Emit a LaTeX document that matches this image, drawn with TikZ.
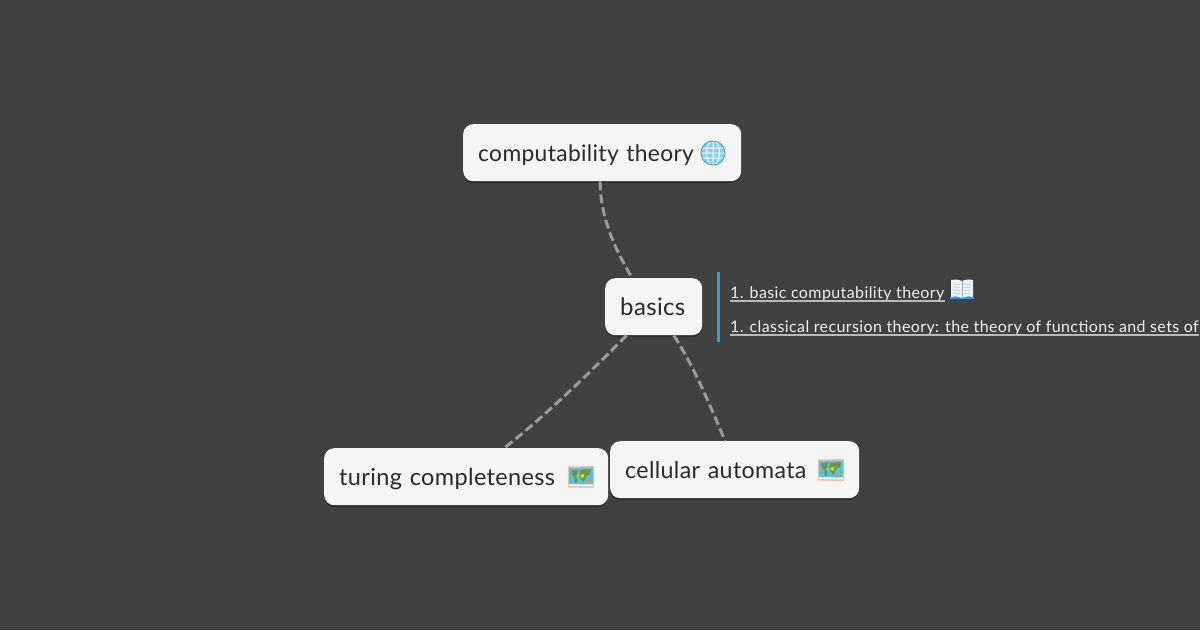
\documentclass[tikz,border=0pt]{standalone}
\usepackage{fontspec}
\setmainfont{Lato}[LetterSpace=1.5]
\newfontfamily\listfont{Lato}[LetterSpace=2.5]
\usetikzlibrary{calc}
\definecolor{bgc}{HTML}{414141}
\definecolor{cardc}{HTML}{F5F5F5}
\definecolor{inkc}{HTML}{2A2A2A}
\definecolor{linkc}{HTML}{9A9A9A}
\definecolor{barc}{HTML}{2D9CE6}
\definecolor{listc}{HTML}{EDEDED}
\definecolor{seac}{HTML}{5CBDEB}
\definecolor{landc}{HTML}{6E9A34}
\definecolor{sandc}{HTML}{E3C4A8}
\tikzset{
  x=1pt,y=-1pt,
  card/.style={fill=cardc,rounded corners=10pt,minimum height=57pt,inner xsep=15pt,inner ysep=0pt,
    text height=37pt,text depth=20pt,
    text=inkc,align=left,anchor=north west},
  cardfont/.style={font=\fontsize{#1}{26}\selectfont},
  shade card/.style={fill=black,opacity=.28,rounded corners=10pt,draw=none},
  conn/.style={draw=linkc,line width=3pt,dash pattern=on 9pt off 4pt},
  item/.style={text=listc,font=\fontsize{16}{20}\selectfont\listfont,anchor=base west,inner sep=0pt},
  under/.style={draw=listc!70!bgc,line width=1.2pt},
  mapicon/.pic={
    \fill[sandc] (-13,-10.5) -- (13,-11) -- (13,11) -- (-13,10.5) -- cycle;
    \fill[seac] (-12,-9) -- (12,-9.5) -- (12,7.5) -- (-12,7) -- cycle;
    \fill[landc] (-10,-6.5) -- (-3,-7.5) -- (-4,-2) -- (-6,-1) -- (-3.5,2) -- (-4.5,6) -- (-6,5.5) -- (-7,0) -- (-9,-3) -- cycle;
    \fill[landc] (-1,-7) -- (10,-8) -- (9,-3) -- (5,-1) -- (4,2) -- (2,5) -- (0,2) -- (-1.5,-2) -- cycle;
    \fill[yellow!70!orange] (-1,-2) -- (3,-3) -- (3,0) -- (1,1) -- cycle;
    \fill[orange!80!yellow] (7,3) -- (9.5,3) -- (9.5,5) -- (7,5) -- cycle;
    \fill[white,opacity=.75] (-12,7) -- (12,7.5) -- (12,9.5) -- (-12,9) -- cycle;
  },
  globeicon/.pic={
    \fill[seac!75!white] (0,0) circle[radius=12.5];
    \draw[white,line width=1pt] (-12,-5) -- (12,-5) (-12.5,0) -- (12.5,0) (-12,5) -- (12,5)
      (0,-12.5) -- (0,12.5) (0,0) ellipse[x radius=6.5,y radius=12.5];
    \draw[seac!85!black,line width=.9pt] (0,0) circle[radius=12];
  },
  bookicon/.pic={
    \fill[barc] (-12,8) -- (-12,10) -- (12,10) -- (12,8) -- cycle;
    \fill[white!85!seac] (-11,-9) .. controls (-6,-10) and (-2,-9) .. (0,-8) .. controls (2,-9) and (6,-10) .. (11,-9) -- (11,8)
      .. controls (6,7) and (2,8) .. (0,9) .. controls (-2,8) and (-6,7) .. (-11,8) -- cycle;
    \draw[gray!70,line width=.7pt] (0,-8) -- (0,9);
    \draw[gray!45,line width=.7pt] (-9,-5) -- (-2,-4.5) (-9,-2) -- (-2,-1.5) (-9,1) -- (-2,1.5) (-9,4) -- (-2,4.5)
      (9,-5) -- (2,-4.5) (9,-2) -- (2,-1.5) (9,1) -- (2,1.5) (9,4) -- (2,4.5);
  }
}
\begin{document}
\begin{tikzpicture}
\useasboundingbox (0,0) rectangle (1200,630);
\clip (0,0) rectangle (1200,630);
\fill[bgc] (0,0) rectangle (1200,630);
% soft shadows
\fill[shade card] (463,126) rectangle (741,183);
\fill[shade card] (605,280) rectangle (702,337);
\fill[shade card] (324,450) rectangle (608,507);
\fill[shade card] (610,443) rectangle (859,500);
% nodes
\node[card,cardfont=22.8,minimum width=278pt,text width=248pt] (root) at (463,124) {computability theory};
\node[card,cardfont=24,minimum width=97pt,text width=67pt] (basics) at (605,278) {basics};
\node[card,cardfont=23.5,minimum width=284pt,text width=254pt] (turing) at (324,448) {turing completeness};
\node[card,cardfont=23.2,minimum width=249pt,text width=219pt] (cell) at (610,441) {cellular automata};
% connectors
\draw[conn] ([xshift=-2pt]root.south) .. controls +(0,38) and +(-15,-25) .. ([xshift=-21.5pt]basics.north);
\draw[conn] ([xshift=-27pt]basics.south) .. controls +(-30,30) and +(45,-35) .. ([xshift=38pt]turing.north);
\draw[conn] ([xshift=20pt]basics.south) .. controls +(20,30) and +(-15,-35) .. ([xshift=-9.5pt]cell.north);
% icons
\pic at (713,153) {globeicon};
\pic at (581,477) {mapicon};
\pic at (831,470) {mapicon};
\pic at (962,289) {bookicon};
% note
\coordinate (bartop) at (718,272);
\coordinate (barbot) at (718,342);
\draw[barc,line width=3pt] (bartop) -- (barbot);
\node[item] (li1) at (730,298) {1. basic computability theory\ };
\node[item] (li2) at (730,332) {1. classical recursion theory: the theory of functions and sets of};
\draw[under] ([yshift=-3pt]li1.base west) -- ([yshift=-3pt]li1.base east);
\draw[under] ([yshift=-3pt]li2.base west) -- ([yshift=-3pt]li2.base east);
\end{tikzpicture}
\end{document}
